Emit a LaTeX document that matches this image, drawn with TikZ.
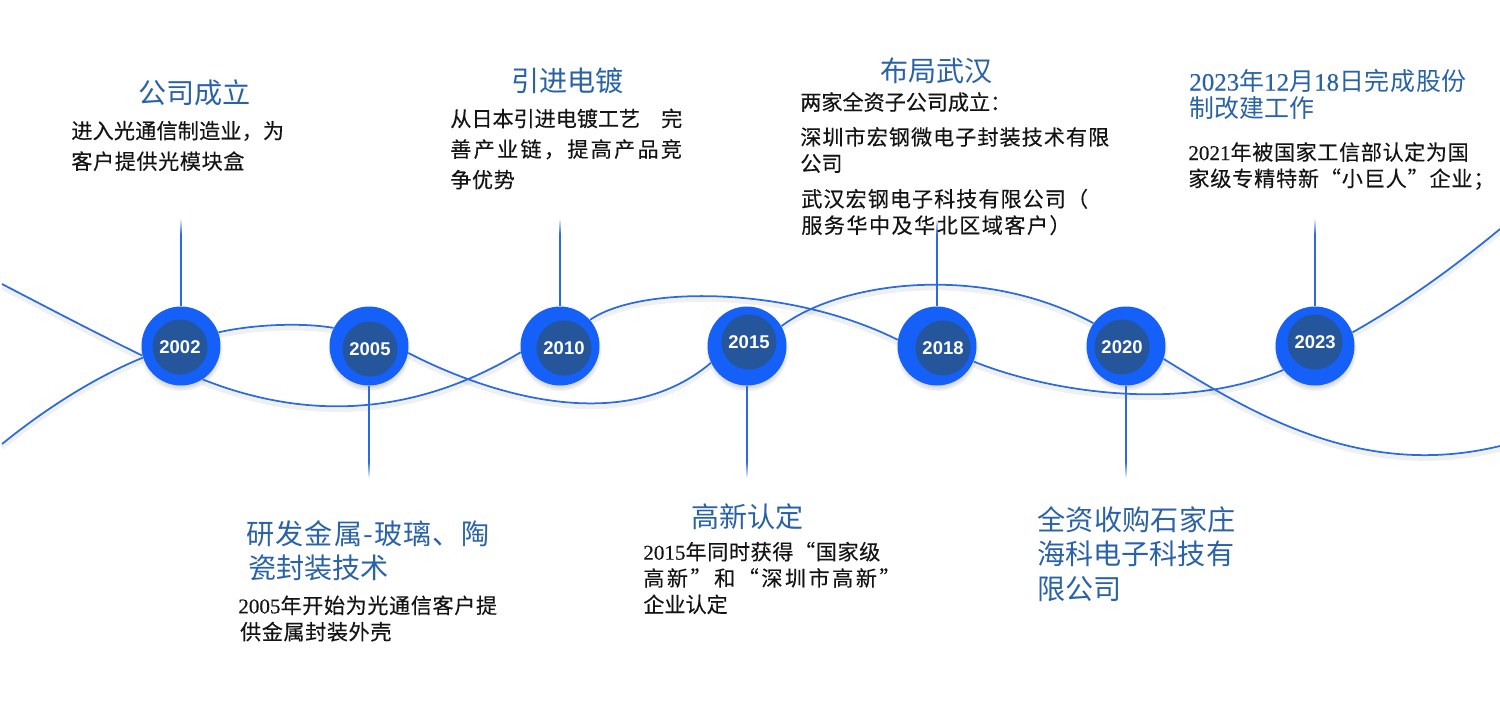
\documentclass[tikz,border=0pt]{standalone}
\usepackage{fontspec}
\setmainfont{Noto Sans CJK SC}
\newfontfamily\latserif[FakeBold=0.3]{Liberation Serif}
\newfontfamily\latsans{Liberation Sans}
\usetikzlibrary{shadows}
\definecolor{ringblue}{HTML}{1460F8}
\definecolor{coreblue}{HTML}{25569B}
\definecolor{waveblue}{HTML}{2A6BE0}
\definecolor{titleblue}{HTML}{2A62A8}
\newcommand{\lsp}[2]{{\addfontfeature{LetterSpace=#1}#2}}
\newcommand{\num}[1]{{\latserif #1}}
\newcommand{\yr}[1]{\raisebox{-1pt}{#1}}
\tikzset{
    ring/.style={circle, fill=ringblue, inner sep=0pt, minimum size=1.58cm,
        circular drop shadow={shadow xshift=0pt, shadow yshift=-2pt, shadow scale=1.06, opacity=0.35}},
    core/.style={circle, fill=coreblue, inner sep=0pt, minimum size=1.1cm, text=white,
        font=\latsans\bfseries\fontsize{10.5}{12}\selectfont},
    wave/.style={draw=waveblue, line width=1pt,
        preaction={draw=black, opacity=0.06, line width=2.5pt, transform canvas={yshift=-2pt}}},
    stem/.style={draw=waveblue, line width=0.85pt},
    titletext/.style={anchor=west, inner sep=0pt, align=left, text=titleblue,
        font=\fontsize{#1}{19.6pt}\selectfont},
    titletext/.default=16,
    bodytext/.style={anchor=west, inner sep=0pt, align=left, text=black!92,
        font=\fontsize{12}{17.4pt}\selectfont\addfontfeature{FakeBold=0.3}},
    tightbody/.style={bodytext, font=\fontsize{12}{15pt}\selectfont\addfontfeature{FakeBold=0.3}},
}
\begin{document}
\begin{tikzpicture}[x=0.02cm, y=-0.02cm]
    \useasboundingbox (0, 0) rectangle (1500, 707);

    % year circles
    \node[ring] (n2002) at (181, 346) {};
    \node[ring] (n2005) at (369, 346) {};
    \node[ring] (n2010) at (560, 346) {};
    \node[ring] (n2015) at (747, 346) {};
    \node[ring] (n2018) at (937, 346) {};
    \node[ring] (n2020) at (1126, 346) {};
    \node[ring] (n2023) at (1315, 346) {};
    \node[core] (y2002) at (180, 347) {\yr{2002}};
    \node[core] (y2005) at (370, 349) {\yr{2005}};
    \node[core] (y2010) at (564, 348) {\yr{2010}};
    \node[core] (y2015) at (749, 342) {\yr{2015}};
    \node[core] (y2018) at (943, 348) {\yr{2018}};
    \node[core] (y2020) at (1122, 347) {\yr{2020}};
    \node[core] (y2023) at (1315, 342) {\yr{2023}};

    % free ends of the two waves
    \coordinate (a0) at (2, 284);
    \coordinate (a1) at (1500, 229);
    \coordinate (b0) at (2, 444);
    \coordinate (b1) at (1500, 446);

    \draw[wave] (a0) .. controls (50, 309) and (100, 335) .. (n2002.194);
    \draw[wave] (n2002.-57) .. controls (290, 414) and (400, 425) .. (n2010.189);
    \draw[wave] (n2010.41) .. controls (640, 285) and (790, 286) .. (n2018.171);
    \draw[wave] (n2018.-23) .. controls (1060, 396) and (1190, 410) .. (n2023.217);
    \draw[wave] (n2023.20) .. controls (1410, 300) and (1460, 262) .. (a1);

    \draw[wave] (b0) .. controls (50, 405) and (100, 375) .. (n2002.197);
    \draw[wave] (n2002.20) .. controls (250, 325) and (300, 322) .. (n2005.153);
    \draw[wave] (n2005.-10) .. controls (480, 390) and (620, 440) .. (n2015.205);
    \draw[wave] (n2015.30) .. controls (840, 282) and (980, 262) .. (n2020.145);
    \draw[wave] (n2020.-19) .. controls (1250, 412) and (1360, 480) .. (b1);

    % stems, the far end fades out
    \coordinate (s2002) at (181, 234);
    \coordinate (s2010) at (560, 234);
    \coordinate (s2018) at (937, 234);
    \coordinate (s2023) at (1315, 234);
    \coordinate (s2005) at (369, 462);
    \coordinate (s2015) at (747, 462);
    \coordinate (s2020) at (1126, 462);
    \draw[stem] (n2002) -- (s2002);
    \draw[stem] (n2010) -- (s2010);
    \draw[stem] (n2018) -- (s2018);
    \draw[stem] (n2023) -- (s2023);
    \draw[stem] (n2005) -- (s2005);
    \draw[stem] (n2015) -- (s2015);
    \draw[stem] (n2020) -- (s2020);
    \shade[top color=white, bottom color=waveblue] (180.2, 218) rectangle (181.8, 234);
    \shade[top color=white, bottom color=waveblue] (559.2, 218) rectangle (560.8, 234);
    \shade[top color=white, bottom color=waveblue] (936.2, 218) rectangle (937.8, 234);
    \shade[top color=white, bottom color=waveblue] (1314.2, 218) rectangle (1315.8, 234);
    \shade[top color=waveblue, bottom color=white] (368.2, 462) rectangle (369.8, 478);
    \shade[top color=waveblue, bottom color=white] (746.2, 462) rectangle (747.8, 478);
    \shade[top color=waveblue, bottom color=white] (1125.2, 462) rectangle (1126.8, 478);

    % texts above the line
    \node[titletext] (t2002) at (138, 93) {公司成立};
    \node[bodytext] (b2002) at (71, 146) {\lsp{1}{进入光通信制造业，为}\\\lsp{3}{客户提供光模块盒}};

    \node[titletext] (t2010) at (511, 81) {引进电镀};
    \node[bodytext] (b2010) at (450, 149) {从日本引进电镀工艺　完\\\lsp{11}{善产业链，提高产品竞}\\\lsp{3}{争优势}};

    \node[titletext] (t2018) at (880, 71) {布局武汉};
    \node[bodytext] (c2018) at (800, 102) {两家全资子公司成立：};
    \node[tightbody] (d2018) at (800, 150) {\lsp{5}{深圳市宏钢微电子封装技术有限}\\公司};
    \node[tightbody] (e2018) at (801, 212) {\lsp{5}{武汉宏钢电子科技有限公司（}\\\lsp{7}{服务华中及华北区域客户）}};

    \node[titletext=14.2] (t2023) at (1189, 81) {\lsp{3}{\num{2023}年\num{12}月\num{18}日完成股份}};
    \node[titletext=14.2] (u2023) at (1189, 108) {制改建工作};
    \node[tightbody] (b2023) at (1188, 166) {\lsp{3}{\num{2021}年被国家工信部认定为国}\\\lsp{4}{家级专精特新“小巨人”企业；}};

    % texts below the line
    \node[titletext] (t2005) at (246, 551) {\lsp{4}{研发金属-玻璃、陶}\\\hspace*{1pt}瓷封装技术};
    \node[tightbody] (b2005) at (238, 618.5) {\lsp{3}{\num{2005}年开始为光通信客户提}\\\hspace*{1pt}\lsp{3}{供金属封装外壳}};

    \node[titletext] (t2015) at (691, 517) {高新认定};
    \node[tightbody] (b2015) at (643, 578) {\lsp{3}{\num{2015}年同时获得“国家级}\\\lsp{12}{高新”和“深圳市高新”}\\企业认定};

    \node[titletext] (t2020) at (1037, 554) {\lsp{1}{全资收购石家庄}\\海科电子科技有\\限公司};
\end{tikzpicture}
\end{document}
